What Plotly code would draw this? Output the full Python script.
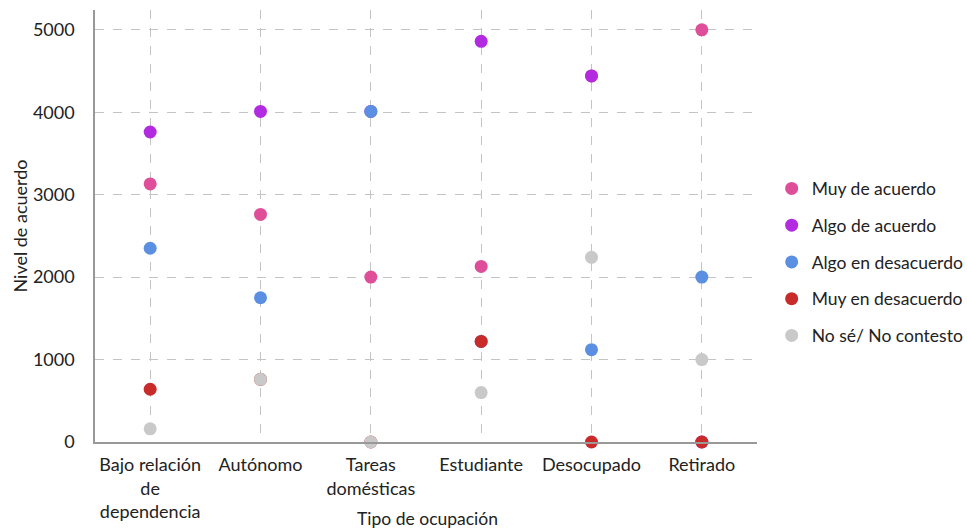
import plotly.graph_objects as go

categorias = ["Bajo relación<br>de<br>dependencia", "Autónomo", "Tareas<br>domésticas",
              "Estudiante", "Desocupado", "Retirado"]

muy_acuerdo = [3130, 2760, 2000, 2130, 4440, 5000]
algo_acuerdo = [3760, 4010, 4010, 4860, 4440, 0]
algo_desacuerdo = [2350, 1750, 4010, 1220, 1120, 2000]
muy_desacuerdo = [640, 760, 0, 1220, 0, 0]
no_sabe = [160, 760, 0, 600, 2240, 1000]

series = [
    ("Muy de acuerdo", muy_acuerdo, "#df4f99"),
    ("Algo de acuerdo", algo_acuerdo, "#b22be0"),
    ("Algo en desacuerdo", algo_desacuerdo, "#5a8fe2"),
    ("Muy en desacuerdo", muy_desacuerdo, "#c92a2a"),
    ("No sé/ No contesto", no_sabe, "#c9c9c9"),
]

fuente = "Lato, Noto Sans, sans-serif"

fig = go.Figure()
for nombre, valores, color in series:
    fig.add_trace(go.Scatter(
        x=categorias,
        y=valores,
        mode="markers",
        name=nombre,
        legendgroup=nombre,
        cliponaxis=False,
        marker=dict(color=color, size=13),
    ))

fig.update_layout(
    width=967, height=532,
    margin=dict(l=95, r=210, t=10, b=90),
    plot_bgcolor="white",
    paper_bgcolor="white",
    font=dict(family=fuente, size=17.5, color="#222"),
    showlegend=True,
    legend=dict(xref="container", yref="container", x=0.798, y=0.5075,
                xanchor="left", yanchor="middle",
                tracegroupgap=11, font=dict(size=17.5)),
)
# título del eje x como anotación, justo debajo de las etiquetas de una línea
fig.add_annotation(text="Tipo de ocupación", xref="paper", yref="paper",
                   x=0.503, y=-0.178, xanchor="center", yanchor="middle",
                   showarrow=False, font=dict(size=17.5))
fig.update_xaxes(
    automargin=False,
    tickfont=dict(size=18), ticklabelstandoff=6,
    showline=True, linecolor="#999999", linewidth=1.5,
    showgrid=True, gridcolor="#c4c4c4", griddash="dash", gridwidth=1,
    range=[-0.5, 5.5], ticks="", zeroline=False,
)
fig.update_yaxes(
    title=dict(text="Nivel de acuerdo", standoff=1,
               font=dict(family=fuente, size=18, color="#222")),
    automargin=False,
    tickfont=dict(size=18), ticklabelstandoff=15,
    showline=True, linecolor="#999999", linewidth=1.5,
    showgrid=True, gridcolor="#c4c4c4", griddash="dash", gridwidth=1,
    range=[0, 5240], dtick=1000, ticks="", zeroline=False,
)

# quitar el margen por defecto del body para que la figura ocupe la ventana
fig.write_html("out.html", config={"displayModeBar": False},
               post_script="document.body.style.margin='0';")
